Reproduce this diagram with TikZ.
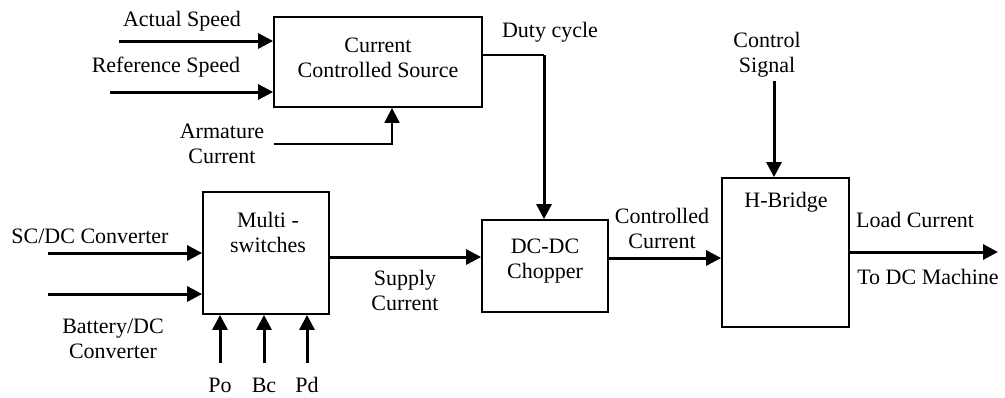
\documentclass[tikz,border=0pt]{standalone}
\usepackage{fontspec}
\setmainfont{Liberation Serif}
\usetikzlibrary{arrows.meta}
\begin{document}
\begin{tikzpicture}[x=0.5pt,y=-0.5pt,
  font=\fontsize{11}{12.5}\selectfont,
  blk/.style={draw,line width=0.9pt,inner sep=0pt},
  sig/.style={line width=1.5pt,-{Triangle[length=7.5pt,width=7.5pt]}},
  thinsig/.style={line width=0.9pt},
  thinarr/.style={line width=0.9pt,-{Triangle[length=7.5pt,width=7.5pt]}},
  lbl/.style={align=center,inner sep=0pt}]
\useasboundingbox (0,0) rectangle (1005,397);
% blocks
\node[blk,minimum width=104pt,minimum height=45pt] (ccs) at (378,62) {};
\node[lbl] (ccst) at (378,58) {Current\\Controlled Source};
\node[blk,minimum width=63pt,minimum height=61pt] (ms) at (266,253) {};
\node[lbl] (mst) at (268,232) {Multi -\\switches};
\node[blk,minimum width=63pt,minimum height=46pt] (ch) at (545,266) {};
\node[lbl] (cht) at (545,261) {DC-DC\\Chopper};
\node[blk,minimum width=63.5pt,minimum height=74.5pt] (hb) at (785.5,252.5) {};
\node[lbl] (hbt) at (786,202) {H-Bridge};
% free ends
\coordinate (as) at (119,41);
\coordinate (rs) at (110,92);
\coordinate (arm) at (274,144);
\coordinate (armx) at (392,0);
\coordinate (dc) at (544,55);
\coordinate (sc) at (48,253);
\coordinate (bat) at (48,294);
\coordinate (sup) at (0,257);
\coordinate (po) at (220,363);
\coordinate (bc) at (264,363);
\coordinate (pd) at (307,363);
\coordinate (cc) at (0,258);
\coordinate (cs) at (774,81);
\coordinate (lc) at (998,252);
% connectors
\draw[sig] (as) -- (as -| ccs.west);
\draw[sig] (rs) -- (rs -| ccs.west);
\draw[thinarr] (arm) -| (ccs.south -| armx);
\draw[thinsig] (ccs.east |- dc) -- (dc);
\draw[sig] (dc) -- (ch.north -| dc);
\draw[sig] (sc) -- (sc -| ms.west);
\draw[sig] (bat) -- (bat -| ms.west);
\draw[sig] (ms.east |- sup) -- (ch.west |- sup);
\draw[sig] (po) -- (ms.south -| po);
\draw[sig] (bc) -- (ms.south -| bc);
\draw[sig] (pd) -- (ms.south -| pd);
\draw[sig] (ch.east |- cc) -- (hb.west |- cc);
\draw[sig] (cs) -- (hb.north -| cs);
\draw[sig] (hb.east |- lc) -- (lc);
% labels
\node[lbl] (l1) at (182,21) {Actual Speed};
\node[lbl] (l2) at (166,67) {Reference Speed};
\node[lbl] (l3) at (222,144) {Armature\\Current};
\node[lbl] (l4) at (550,32) {Duty cycle};
\node[lbl] (l5) at (767,55) {Control\\Signal};
\node[lbl] (l6) at (90,236) {SC/DC Converter};
\node[lbl] (l7) at (113,339) {Battery/DC\\Converter};
\node[lbl] (l8) at (405,290) {Supply\\Current};
\node[lbl] (l9) at (220,385) {Po};
\node[lbl] (l10) at (264,385) {Bc};
\node[lbl] (l11) at (307,385) {Pd};
\node[lbl] (l12) at (662,228) {Controlled\\Current};
\node[lbl] (l13) at (915,220) {Load Current};
\node[lbl] (l14) at (928,277) {To DC Machine};
\end{tikzpicture}
\end{document}
